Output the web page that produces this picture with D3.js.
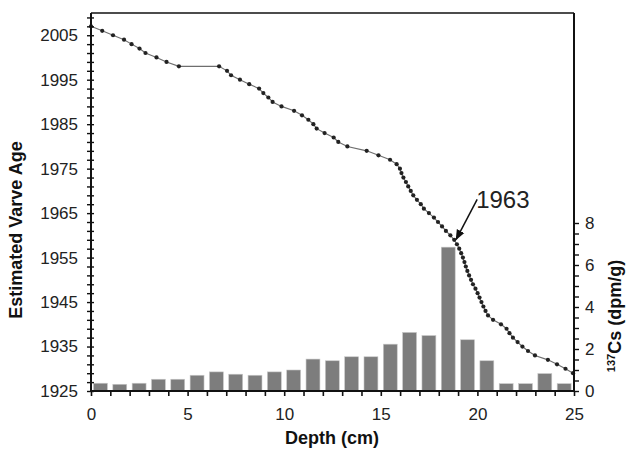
<!DOCTYPE html>
<html><head><meta charset="utf-8">
<script src="https://cdn.jsdelivr.net/npm/d3@7"></script>
<style>body{margin:0;background:#fff}svg{display:block}text{font-family:"Liberation Sans",Arial,sans-serif}</style>
</head><body>
<svg id="c" width="627" height="451"></svg>
<script>
// Varve age line: year and depth (cm)
const varveYears = [2007,2006,2005,2004,2003,2002,2001,2000,1999,1998,1998,1997,1996,1995,1994,1993,1992,1991,1990,1989,1988,1987,1986,1985,1984,1983,1982,1981,1980,1979,1978,1977,1976,1975,1974,1973,1972,1971,1970,1969,1968,1967,1966,1965,1964,1963,1962,1961,1960,1959,1958,1957,1956,1955,1954,1953,1952,1951,1950,1949,1948,1947,1946,1945,1944,1943,1942,1941,1940,1939,1938,1937,1936,1935,1934,1933,1932,1931,1930,1929];
const varveDepths = [0.00,0.58,1.14,1.71,2.10,2.51,2.82,3.39,3.91,4.55,6.63,7.04,7.25,7.71,8.19,8.70,8.92,9.18,9.40,9.86,10.51,10.92,11.25,11.51,11.68,12.09,12.56,12.80,13.27,14.27,14.88,15.48,15.82,15.99,16.07,16.17,16.30,16.42,16.55,16.68,16.87,17.07,17.23,17.49,17.75,17.96,18.17,18.37,18.60,18.80,18.94,19.06,19.16,19.25,19.33,19.40,19.48,19.57,19.67,19.77,19.90,20.01,20.11,20.21,20.31,20.42,20.55,20.81,21.22,21.51,21.66,21.84,22.08,22.33,22.62,22.98,23.65,24.12,24.56,24.95];
// 137Cs bars per 1-cm interval (top depth of interval)
const csDepths = [0,1,2,3,4,5,6,7,8,9,10,11,12,13,14,15,16,17,18,19,20,21,22,23,24];
const csValues = [0.37,0.32,0.37,0.56,0.56,0.75,0.91,0.80,0.75,0.91,1.00,1.52,1.44,1.63,1.63,2.23,2.79,2.64,6.85,2.44,1.44,0.35,0.35,0.83,0.35];
const xTickLabels = [0,5,10,15,20,25];
const yLeftTickLabels = [1925,1935,1945,1955,1965,1975,1985,1995,2005];
const yRightTickLabels = [0,2,4,6,8];
const annotationLabel = "1963";
const annotationDepth = 18.85;

const svg = d3.select("#c");
const L=91, R=574, T=13, B=391;
const x = d3.scaleLinear().domain([0,25]).range([L,R]);
const yL = d3.scaleLinear().domain([1925,2010]).range([B,T]);
const yR = d3.scaleLinear().domain([0,18]).range([B,T]);

// bars
svg.append("g").selectAll("rect").data(csDepths).join("rect")
  .attr("x",(d)=>x(d+0.13)).attr("width",x(0.72)-x(0))
  .attr("y",(d,i)=>yR(csValues[i])).attr("height",(d,i)=>yR(0)-yR(csValues[i]))
  .attr("fill","#7d7d7d").attr("stroke","#c8c8c8").attr("stroke-width",0.6);

// line
const pts = varveYears.map((y,i)=>[varveDepths[i],y]);
svg.append("path").datum(pts)
  .attr("d",d3.line().x(d=>x(d[0])).y(d=>yL(d[1])))
  .attr("fill","none").attr("stroke","#6e6e6e").attr("stroke-width",1.1);
svg.append("g").selectAll("circle").data(pts).join("circle")
  .attr("cx",d=>x(d[0])).attr("cy",d=>yL(d[1])).attr("r",2.1).attr("fill","#222");

// frame top
svg.append("line").attr("x1",L).attr("x2",R).attr("y1",T).attr("y2",T).attr("stroke","#111").attr("stroke-width",1.6);

const fs = 17;
// x axis
const gx = svg.append("g").attr("transform",`translate(0,${B})`)
  .call(d3.axisBottom(x).tickValues(d3.range(0,26,1)).tickSize(5).tickFormat(d=>xTickLabels.includes(d)?d:""));
gx.select(".domain").attr("stroke","#111").attr("stroke-width",2).attr("d",`M${L},0H${R}`);
gx.selectAll(".tick line").attr("stroke","#111").attr("stroke-width",1.6);
gx.selectAll("text").attr("font-size",fs).attr("fill","#222").attr("dy","1.25em");

// left axis
const gl = svg.append("g").attr("transform",`translate(${L},0)`)
  .call(d3.axisLeft(yL).tickValues(d3.range(1925,2010,2)).tickSize(4).tickPadding(9).tickFormat(d=>yLeftTickLabels.includes(d)?d:""));
gl.select(".domain").attr("stroke","#111").attr("stroke-width",2).attr("d",`M0,${B}V${T}`);
gl.selectAll(".tick line").attr("stroke","#111").attr("stroke-width",1.4).attr("x1",3).attr("x2",-4);
gl.selectAll("text").attr("font-size",fs).attr("fill","#222");

// right axis
const gr = svg.append("g").attr("transform",`translate(${R},0)`)
  .call(d3.axisRight(yR).tickValues(d3.range(0,8.01,0.5)).tickSize(5).tickPadding(6).tickFormat(d=>yRightTickLabels.includes(d)?d:""));
gr.select(".domain").attr("stroke","#111").attr("stroke-width",2).attr("d",`M0,${B}V${T}`);
gr.selectAll(".tick line").attr("stroke","#111").attr("stroke-width",1.4);
gr.selectAll("text").attr("font-size",fs).attr("fill","#222");

// titles
svg.append("text").attr("x",332).attr("y",444).attr("text-anchor","middle")
  .attr("font-size",18).attr("font-weight","bold").attr("fill","#111").text("Depth (cm)");
svg.append("text").attr("transform","translate(22,230) rotate(-90)").attr("text-anchor","middle")
  .attr("font-size",18).attr("font-weight","bold").attr("fill","#111").text("Estimated Varve Age");
const rt = svg.append("text").attr("transform","translate(621,316) rotate(-90)").attr("text-anchor","middle")
  .attr("font-size",18).attr("font-weight","bold").attr("fill","#111");
rt.append("tspan").attr("font-size",11).attr("dy",-6).text("137");
rt.append("tspan").attr("dy",6).text("Cs (dpm/g)");

// annotation: arrow tip on the curve at annotationDepth
const j = d3.bisector(d=>d).right(varveDepths, annotationDepth);
const t = (annotationDepth - varveDepths[j-1])/(varveDepths[j]-varveDepths[j-1]);
const tipYear = varveYears[j-1] + t*(varveYears[j]-varveYears[j-1]);
const tipX = x(annotationDepth)+1, tipY = yL(tipYear)-2;
svg.append("defs").append("marker").attr("id","ah").attr("viewBox","0 0 10 10").attr("refX",9).attr("refY",5)
  .attr("markerWidth",7).attr("markerHeight",7).attr("orient","auto")
  .append("path").attr("d","M0,1L10,5L0,9z").attr("fill","#111");
svg.append("line").attr("x1",tipX+21).attr("y1",tipY-40).attr("x2",tipX).attr("y2",tipY)
  .attr("stroke","#111").attr("stroke-width",1.5).attr("marker-end","url(#ah)");
svg.append("text").attr("x",tipX+20).attr("y",tipY-31).attr("font-size",24).attr("fill","#222").text(annotationLabel);
</script>
</body></html>
